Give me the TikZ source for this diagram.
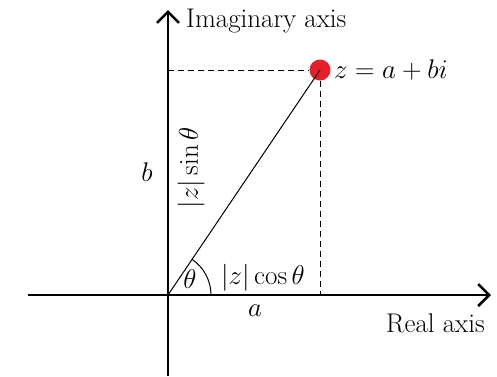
\RequirePackage{fix-cm}
\documentclass[tikz,border=0pt]{standalone}
\usetikzlibrary{arrows.meta,calc}
\definecolor{dotred}{RGB}{230,30,40}
\begin{document}
\begin{tikzpicture}[x=1pt,y=-1pt,
  axis/.style={line width=2.5pt,-{Straight Barb[length=11pt,width=22pt,line width=2.5pt]}},
  guide/.style={dashed,line width=0.9pt,dash pattern=on 6pt off 4pt},
  lbl/.style={inner sep=0pt,font=\fontsize{27}{32}\selectfont}]
\useasboundingbox (0,0) rectangle (497,376);
\coordinate (O) at (168,295);
\coordinate (xl) at (28,295);
\coordinate (xr) at (491,295);
\coordinate (yb) at (168,376);
\coordinate (yt) at (168,10);
\coordinate (ya) at (168,70);
\coordinate (xa) at (320,295);
\node[circle,fill=dotred,minimum size=21pt,inner sep=0pt] (z) at (320,70) {};
\draw[axis] (xl) -- (xr);
\draw[axis] (yb) -- (yt);
\draw[guide] (ya) -- (z.west);
\draw[guide] (z.south) -- (xa);
\draw[line width=1pt] (O) -- (z.center);
\draw[line width=1pt] ($(O)+(43,0)$) arc[start angle=0,end angle=56.2,radius=43pt];
\node[lbl,anchor=west] (im) at (186,21) {Imaginary axis};
\node[lbl,anchor=west] (re) at (386,323) {Real axis};
\node[lbl,anchor=west] (zl) at (334,70) {$z=a+bi$};
\node[lbl] (b) at (147,172) {$b$};
\node[lbl] (a) at (255,311) {$a$};
\node[lbl] (th) at (190,279) {$\theta$};
\node[lbl] (cos) at (263,278) {$|z|\cos\theta$};
\node[lbl,rotate=90] (sin) at (191,168) {$|z|\sin\theta$};
\end{tikzpicture}
\end{document}
